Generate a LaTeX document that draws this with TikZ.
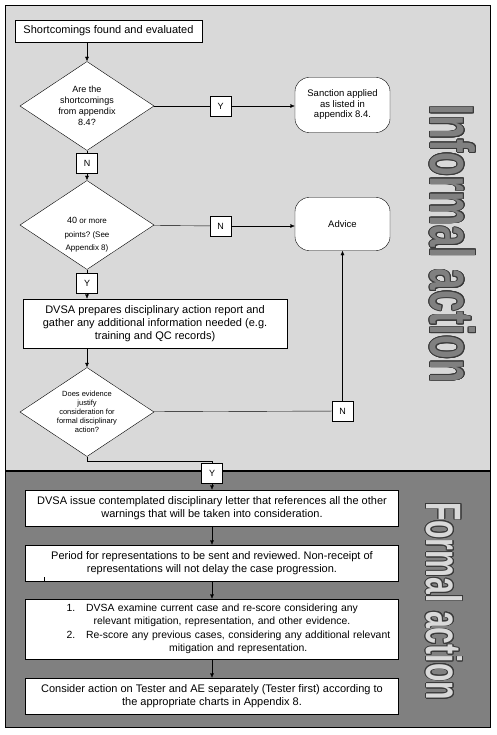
\documentclass[tikz,border=0pt]{standalone}
\usepackage{fontspec}
\setmainfont{Liberation Sans}
\usepackage{graphicx}
\usepackage{contour}
\usetikzlibrary{shapes.geometric,arrows.meta}
\definecolor{lightbg}{HTML}{D9D9D9}
\definecolor{darkbg}{HTML}{808080}
\definecolor{rim}{HTML}{3A3A3A}
\contourlength{1.1pt}
\frenchspacing
\tikzset{
  box/.style={draw, fill=white, inner sep=2pt, align=center, font=\fontsize{11}{13}\selectfont},
  fbox/.style={box, minimum width=373pt, minimum height=36pt},
  dia/.style={draw, fill=white, diamond, aspect=1.5, inner sep=0pt, minimum width=134pt, minimum height=89pt, align=center},
  term/.style={draw, fill=white, rounded corners=14pt, minimum width=95pt, minimum height=54pt, align=center, font=\fontsize{9.5}{10.5}\selectfont},
  yn/.style={draw, fill=white, minimum width=21pt, minimum height=20pt, inner sep=0pt, font=\fontsize{9}{10}\selectfont},
  link/.style={-{Latex[length=4.5pt,width=4pt]}},
}
\begin{document}
\begin{tikzpicture}[x=1pt,y=1pt]
\useasboundingbox (0,0) rectangle (496,-735);
% panels
\draw[fill=lightbg] (5,-5) rectangle (490,-471);
\draw[fill=darkbg] (5,-471) rectangle (490,-727);
\draw[line width=2pt] (5,-471) -- (490,-471);
\node[rotate=-90, inner sep=0] (informal) at (452.5,-244)
  {\resizebox{278pt}{45pt}{\fontsize{62}{62}\selectfont\bfseries\color{darkbg}\contour{rim}{Informal action}}};
\node[rotate=-90, inner sep=0] (formal) at (444,-601)
  {\resizebox{198pt}{36pt}{\fontsize{49}{49}\selectfont\bfseries\color{lightbg}\contour{rim}{Formal action}}};

% informal part
\node[box, minimum width=187pt, minimum height=22pt] (found) at (108.5,-31) {Shortcomings found and evaluated};
\node[dia, font=\fontsize{9}{11}\selectfont] (d1) at (87,-106) {Are the\\shortcomings\\from appendix\\8.4?};
\node[yn] (y1) at (220.5,-106) {Y};
\node[term, minimum height=55pt] (sanction) at (342.5,-105) {Sanction applied\\as listed in\\appendix 8.4.};
\node[yn] (n1) at (87,-163) {N};
\node[dia] (d2) at (87,-225) {};
\node[align=center, font=\fontsize{8}{13.5}\selectfont] (d2text) at (87,-235) {{\fontsize{9}{13.5}\selectfont 40} or more\\points? (See\\Appendix 8)};
\node[yn] (n2) at (220.5,-226) {N};
\node[term, minimum height=53pt] (advice) at (342.5,-224) {Advice};
\node[yn] (y2) at (87,-283) {Y};
\node[box, minimum width=264pt, minimum height=49pt, font=\fontsize{11}{13}\selectfont] (report) at (155,-323.5)
  {DVSA prepares disciplinary action report and\\gather any additional information needed (e.g.\\training and QC records)};
\node[dia, font=\fontsize{7.5}{9}\selectfont] (d3) at (87,-412) {Does evidence\\justify\\consideration for\\formal disciplinary\\action?};
\node[yn] (n3) at (342.5,-411) {N};
\node[yn] (y3) at (212,-473) {Y};

% formal part
\node[fbox] (f1) at (212,-508) {DVSA issue contemplated disciplinary letter that references all the other\\warnings that will be taken into consideration.};
\node[fbox] (f2) at (212,-563) {Period for representations to be sent and reviewed. Non-receipt of\\representations will not delay the case progression.};
\node[fbox, minimum height=60pt, text width=373pt, inner xsep=0pt, align=left, font=\fontsize{10.4}{13}\selectfont] (f3) at (212,-629)
  {\hspace*{41pt}\begin{tabular}[t]{@{}l@{\hspace{11pt}}c@{}}
   1. & DVSA examine current case and re-score considering any\\
      & relevant mitigation, representation, and other evidence.
   \end{tabular}\\
   \hspace*{41pt}\begin{tabular}[t]{@{}l@{\hspace{11pt}}c@{}}
   2. & Re-score any previous cases, considering any additional relevant\\
      & mitigation and representation.
   \end{tabular}};
\node[fbox] (f4) at (212,-696) {Consider action on Tester and AE separately (Tester first) according to\\the appropriate charts in Appendix 8.};
\draw (f2.south west) ++(18.5,0) -- ++(0,4);

% connectors
\draw[link] (d1.north |- found.south) -- (d1.north);
\draw (d1) -- (y1);
\draw[link] (y1) -- (y1 -| sanction.west);
\draw (d1) -- (n1);
\draw[link] (n1) -- (d2);
\draw (d2) -- (n2);
\draw[link] (n2) -- (n2 -| advice.west);
\draw (d2) -- (y2);
\draw[link] (y2) -- (y2 |- report.north);
\draw[link] (d3.north |- report.south) -- (d3.north);
\draw (d3) -- (n3);
\draw[link] (n3) -- (advice);
\draw (d3.south) -- ++(0,-4) -| (y3);
\draw[link] (y3) -- (y3 |- f1.north);
\draw[link] (f1) -- (f2);
\draw[link] (f2) -- (f3);
\draw[link] (f3) -- (f4);
\end{tikzpicture}
\end{document}
